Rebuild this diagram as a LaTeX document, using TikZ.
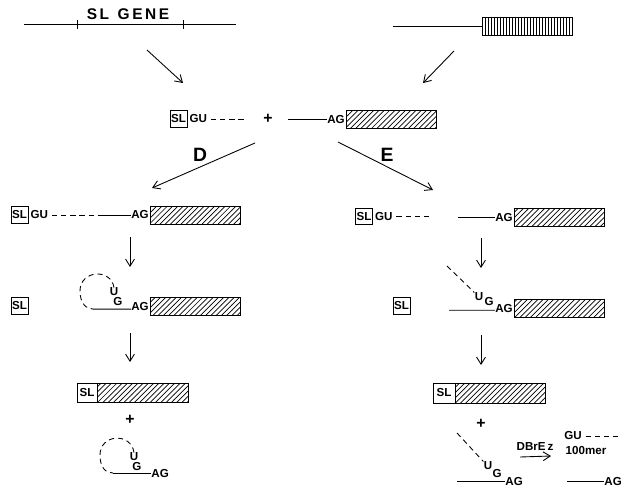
\documentclass[tikz,border=0pt]{standalone}
\usepackage{fontspec}
\setmainfont{Liberation Sans}
\usetikzlibrary{arrows.meta, patterns}
\tikzset{
    lbl/.style={inner sep=0pt, font=\fontsize{6.6}{7}\selectfont\bfseries},
    slbox/.style={draw, inner sep=0pt, minimum width=0.34cm, minimum height=0.33cm,
        font=\fontsize{6.6}{7}\selectfont\bfseries},
    exon/.style={draw, pattern=north east lines, inner sep=0pt,
        minimum width=1.8cm, minimum height=0.36cm},
    big/.style={inner sep=0pt, font=\fontsize{11}{12}\selectfont\bfseries},
    plus/.style={inner sep=0pt, font=\fontsize{9}{9}\selectfont\bfseries},
    arr/.style={-{Straight Barb[length=4pt, width=5pt]}},
    dsh/.style={dash pattern=on 3pt off 2.2pt},
}

\begin{document}
\begin{tikzpicture}[x=0.02cm, y=-0.02cm, line width=0.5pt]
        \useasboundingbox (0,0) rectangle (621,500);

        % Gene and mRNA precursors
        \node[lbl, font=\fontsize{8.8}{9}\selectfont\bfseries] (slgene) at (128,14) {S\,L\ \ G\,E\,N\,E};
        \coordinate (g0) at (24,24);
        \coordinate (g1) at (236,24);
        \draw (g0) -- (g1);
        \foreach \x in {77,183} {
            \draw (\x,20) -- (\x,29);
        }

        \node[draw, inner sep=0pt, minimum width=1.8cm, minimum height=0.36cm, anchor=west] (mx) at (482,26) {};
        \foreach \x in {485,488,491.5,494,497,500,503.5,506,509,512,515.5,518,521,524,527.5,530,533,536,539.5,542,545,548,551.5,554,557,560,563.5,566,569} {
            \draw[line width=0.4pt] (\x,17) -- (\x,35);
        }
        \coordinate (m0) at (393,26);
        \draw (m0) -- (mx.west);

        \coordinate (a1s) at (147,50);
        \coordinate (a1e) at (183,83);
        \draw[arr] (a1s) -- (a1e);
        \coordinate (a2s) at (454,51);
        \coordinate (a2e) at (423,83);
        \draw[arr] (a2s) -- (a2e);

        % Separate RNAs
        \node[slbox] (sl0) at (178.5,119) {SL};
        \node[lbl, anchor=west] (gu0) at ([xshift=1pt]sl0.east) {GU};
        \coordinate (d0) at (247,119);
        \draw[dsh] ([xshift=2pt]gu0.east) -- (d0);
        \node[plus] (plus0) at (268,119) {+};
        \node[exon, anchor=west] (ex0) at (346,119.5) {};
        \node[lbl, anchor=east] (ag0) at ([xshift=-0.5pt]ex0.west) {AG};
        \coordinate (i0) at (288,119.5);
        \draw (i0) -- (ag0.west);

        \node[big] (D) at (200,155) {D};
        \node[big] (E) at (387,155) {E};
        \coordinate (b1s) at (255,143);
        \coordinate (b1e) at (152,188);
        \draw[arr] (b1s) -- (b1e);
        \coordinate (b2s) at (338,142);
        \coordinate (b2e) at (433,190);
        \draw[arr] (b2s) -- (b2e);

        % D: left pathway
        \node[slbox] (sl1) at (19.5,215) {SL};
        \node[lbl, anchor=west] (gu1) at ([xshift=1pt]sl1.east) {GU};
        \node[exon, anchor=west] (ex1) at (150,215) {};
        \node[lbl, anchor=east] (ag1) at ([xshift=-0.5pt]ex1.west) {AG};
        \coordinate (j1) at (100,215);
        \draw[dsh] ([xshift=2pt]gu1.east) -- (j1);
        \draw (j1) -- (ag1.west);
        \coordinate (c1s) at (130,237);
        \coordinate (c1e) at (130,267);
        \draw[arr] (c1s) -- (c1e);

        \node[slbox] (sl2) at (19.5,306) {SL};
        \node[exon, anchor=west] (ex2) at (150,306.5) {};
        \node[lbl, anchor=east] (ag2) at ([xshift=-0.5pt]ex2.west) {AG};
        \node[lbl] (u2) at (114,292) {U};
        \node[lbl] (g2) at (118,302) {G};
        \coordinate (l2) at (93,309.1);
        \draw (l2) -- ([yshift=-1.5pt]ag2.west);
        \draw[dsh] (u2.north) .. controls (111,268) and (80,270) .. (80,291)
            .. controls (80,303) and (86,309) .. (l2);
        \coordinate (c2s) at (130,333);
        \coordinate (c2e) at (130,362);
        \draw[arr] (c2s) -- (c2e);

        \node[slbox, minimum width=0.4cm, minimum height=0.38cm] (sl3) at (87,392.5) {SL};
        \node[exon, anchor=west, minimum width=1.82cm, minimum height=0.38cm] (ex3) at (sl3.east) {};
        \node[plus] (plus3) at (130,420) {+};
        \node[lbl] (u4) at (134,457) {U};
        \node[lbl] (g4) at (137,467) {G};
        \node[lbl, anchor=west] (ag4) at (151,473) {AG};
        \coordinate (l4) at (113,473);
        \draw (l4) -- (ag4.west);
        \draw[dsh] (u4.north) .. controls (131,432) and (100,434) .. (100,455)
            .. controls (100,468) and (106,473) .. (l4);

        % E: right pathway
        \node[slbox] (sl5) at (364,216.5) {SL};
        \node[lbl, anchor=west] (gu5) at ([xshift=1pt]sl5.east) {GU};
        \coordinate (d5) at (432,216.5);
        \draw[dsh] ([xshift=2pt]gu5.east) -- (d5);
        \node[exon, anchor=west] (ex5) at (514,217.5) {};
        \node[lbl, anchor=east] (ag5) at ([xshift=-0.5pt]ex5.west) {AG};
        \coordinate (i5) at (458,217.5);
        \draw (i5) -- (ag5.west);
        \coordinate (c5s) at (481,238);
        \coordinate (c5e) at (481,268);
        \draw[arr] (c5s) -- (c5e);

        \node[slbox] (sl6) at (401.5,306) {SL};
        \node[exon, anchor=west] (ex6) at (514,308.5) {};
        \node[lbl, anchor=east] (ag6) at ([xshift=-0.5pt]ex6.west) {AG};
        \node[lbl] (u6) at (479,297) {U};
        \node[lbl] (g6) at (489,302) {G};
        \coordinate (i6) at (449,310.3);
        \draw (i6) -- ([yshift=-1pt]ag6.west);
        \coordinate (k6) at (447,266);
        \draw[dsh] (k6) -- (u6.north west);
        \coordinate (c6s) at (481,335);
        \coordinate (c6e) at (481,365);
        \draw[arr] (c6s) -- (c6e);

        \node[slbox, minimum width=0.44cm, minimum height=0.4cm] (sl7) at (444,393) {SL};
        \node[exon, anchor=west, minimum width=1.8cm, minimum height=0.4cm] (ex7) at (sl7.east) {};
        \node[plus] (plus7) at (481,424) {+};
        \node[lbl] (u8) at (488,466) {U};
        \node[lbl] (g8) at (497,473) {G};
        \node[lbl, anchor=west] (ag8) at (505,481) {AG};
        \coordinate (i8) at (457,481);
        \draw (i8) -- (ag8.west);
        \coordinate (k8) at (457,433);
        \draw[dsh] (k8) -- (u8.north west);

        \node[lbl] (dbr) at (535,447) {DBrE\,z};
        \coordinate (e8s) at (520,457);
        \coordinate (e8e) at (551,456);
        \draw[arr] (e8s) -- (e8e);
        \node[lbl] (gu9) at (573,436) {GU};
        \coordinate (d9) at (621,436);
        \draw[dsh] ([xshift=2pt]gu9.east) -- (d9);
        \node[lbl] (mer) at (586,450) {100mer};
        \node[lbl, anchor=west] (ag9) at (604,481) {AG};
        \coordinate (i9) at (567,481);
        \draw (i9) -- (ag9.west);
\end{tikzpicture}
\end{document}
